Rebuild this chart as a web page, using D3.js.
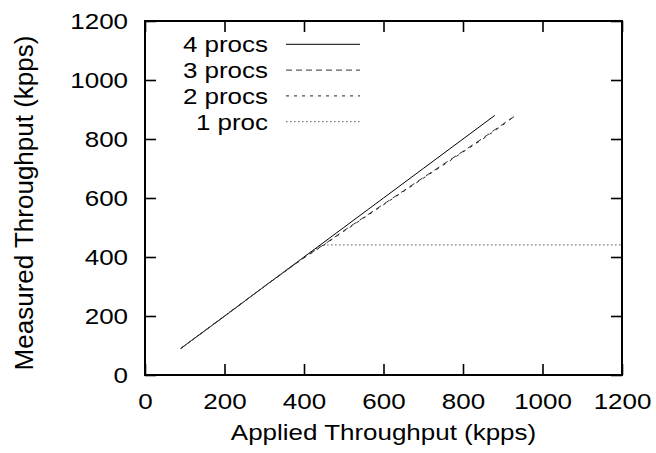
<!DOCTYPE html>
<html>
<head>
<meta charset="utf-8">
<script src="https://cdn.jsdelivr.net/npm/d3@7"></script>
<style>
  body { margin: 0; background: #fff; }
  svg { display: block; font-family: "Liberation Sans", Arial, sans-serif; }
</style>
</head>
<body>
<svg id="chart" width="656" height="453"></svg>
<script>
// tick values
const xTicks = [0, 200, 400, 600, 800, 1000, 1200];
const yTicks = [0, 200, 400, 600, 800, 1000, 1200];

// series: applied (x) and measured (y) throughput, kpps
const seriesNames = ["4 procs", "3 procs", "2 procs", "1 proc"];
const applied4 = [90, 200, 300, 400, 500, 600, 700, 800, 880];
const measured4 = [90, 199, 300, 400, 500, 600, 700, 800, 880];
const applied3 = [90, 200, 300, 400, 450, 500, 550, 600, 650, 700, 750, 800, 850, 900, 932];
const measured3 = [90, 200, 300, 398, 442, 489, 534, 579, 624, 669, 714, 758, 803, 850, 879];
const applied2 = [90, 200, 300, 400, 450, 500, 550, 600, 650, 700, 750, 800, 850, 900, 928];
const measured2 = [90, 200, 300, 397, 441, 487, 532, 577, 622, 667, 711, 756, 800, 847, 877];
const applied1 = [90, 200, 300, 400, 440, 460, 500, 600, 700, 800, 900, 1000, 1100, 1200];
const measured1 = [90, 200, 300, 400, 437, 441, 441, 441, 441, 441, 441, 441, 441, 441];

const margin = {top: 21, right: 34, bottom: 78, left: 145};
const width = 656, height = 453;
const sx = 1.18; // horizontal text stretch seen in the reference

const svg = d3.select("#chart");

const x = d3.scaleLinear().domain([0, 1200]).range([margin.left, width - margin.right]);
const y = d3.scaleLinear().domain([0, 1200]).range([height - margin.bottom, margin.top]);

const zip = (xs, ys) => xs.map((v, i) => [v, ys[i]]);
const series = [
  {name: seriesNames[0], data: zip(applied4, measured4), dash: null, color: "#000"},
  {name: seriesNames[1], data: zip(applied3, measured3), dash: "6,4", color: "#333"},
  {name: seriesNames[2], data: zip(applied2, measured2), dash: "3,5", color: "#222"},
  {name: seriesNames[3], data: zip(applied1, measured1), dash: "1.5,2.5", color: "#555"}
];

const line = d3.line().x(d => x(d[0])).y(d => y(d[1]));

// data lines
svg.append("g")
    .attr("fill", "none")
    .selectAll("path")
    .data(series)
    .join("path")
    .attr("d", d => line(d.data))
    .attr("stroke", d => d.color)
    .attr("stroke-width", 1)
    .attr("stroke-dasharray", d => d.dash);

// axes, ticks drawn inward on all four sides
const tickLen = 11;
const fmt = d3.format("d");
const axBottom = svg.append("g")
    .attr("transform", `translate(0,${y(0)})`)
    .call(d3.axisBottom(x).tickValues(xTicks).tickFormat(fmt)
        .tickSizeInner(-tickLen).tickSizeOuter(0).tickPadding(0));
axBottom.selectAll(".tick text")
    .attr("y", 0).attr("dy", null)
    .attr("transform", `translate(0,34) scale(${sx},1)`);

const axLeft = svg.append("g")
    .attr("transform", `translate(${x(0)},0)`)
    .call(d3.axisLeft(y).tickValues(yTicks).tickFormat(fmt)
        .tickSizeInner(-tickLen).tickSizeOuter(0).tickPadding(0));
axLeft.selectAll(".tick text")
    .attr("x", 0).attr("dy", "0.36em")
    .attr("transform", `translate(-17,0) scale(${sx},1)`);

const axTop = svg.append("g")
    .attr("transform", `translate(0,${y(1200)})`)
    .call(d3.axisTop(x).tickValues(xTicks).tickSizeInner(-tickLen).tickSizeOuter(0).tickFormat(""));
const axRight = svg.append("g")
    .attr("transform", `translate(${x(1200)},0)`)
    .call(d3.axisRight(y).tickValues(yTicks).tickSizeInner(-tickLen).tickSizeOuter(0).tickFormat(""));

for (const g of [axBottom, axLeft, axTop, axRight]) {
  g.selectAll(".domain").remove();
  g.selectAll(".tick line").attr("stroke", "#000").attr("stroke-width", 1.6);
  g.selectAll(".tick text").attr("font-size", 22).attr("fill", "#000");
  g.attr("font-family", null).attr("font-size", null);
}

// frame
svg.append("rect")
    .attr("x", x(0)).attr("y", y(1200))
    .attr("width", x(1200) - x(0)).attr("height", y(0) - y(1200))
    .attr("fill", "none").attr("stroke", "#000").attr("stroke-width", 2);

// axis titles
svg.append("text")
    .attr("transform", `translate(${(x(0) + x(1200)) / 2},440) scale(${sx},1)`)
    .attr("text-anchor", "middle")
    .attr("font-size", 22)
    .text("Applied Throughput (kpps)");

svg.append("text")
    .attr("transform", `translate(33,${(y(0) + y(1200)) / 2 + 5}) rotate(-90)`)
    .attr("text-anchor", "middle")
    .attr("font-size", 26)
    .text("Measured Throughput (kpps)");

// legend
const legend = svg.append("g")
    .selectAll("g")
    .data(series)
    .join("g")
    .attr("transform", (d, i) => `translate(0,${44.3 + i * 25.8})`);
legend.append("text")
    .attr("transform", `translate(268,0) scale(${sx},1)`)
    .attr("text-anchor", "end")
    .attr("dy", "0.36em")
    .attr("font-size", 22)
    .text(d => d.name);
legend.append("line")
    .attr("x1", 286).attr("x2", 360)
    .attr("stroke", d => d.color)
    .attr("stroke-width", 1)
    .attr("stroke-dasharray", d => d.dash);
</script>
</body>
</html>
